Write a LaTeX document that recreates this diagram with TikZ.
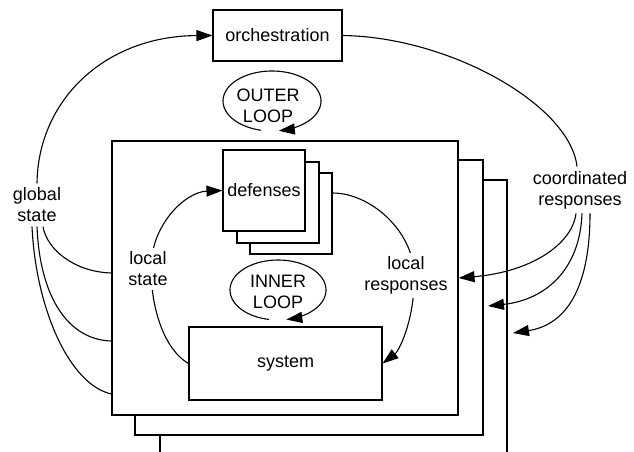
\documentclass[tikz,border=0pt]{standalone}
\usepackage{fontspec}
\setmainfont{Liberation Sans}
\usetikzlibrary{arrows.meta}
\begin{document}
\begin{tikzpicture}[x=1pt,y=-1pt,line width=1.1pt,
  txt/.style={font=\fontsize{18}{21}\selectfont},
  box/.style={draw,fill=white,rectangle,inner sep=0pt},
  lbl/.style={txt,fill=white,inner sep=4pt,align=center},
  arr/.style={-{Triangle[length=16pt,width=11pt]}}]
\useasboundingbox (0,0) rectangle (634,452);
% stacked system boxes
\fill[white] (160,180) rectangle (507,452);
\draw (160,452) -- (160,180) -- (507,180) -- (507,452);
\node[box,minimum width=348pt,minimum height=275pt] (box2) at (309,297.5) {};
\node[box,minimum width=346pt,minimum height=274pt] (box1) at (285,278) {};
% defenses stack
\node[box,minimum width=82pt,minimum height=81pt] (def3) at (291,213.5) {};
\node[box,minimum width=82pt,minimum height=81pt] (def2) at (278,202.5) {};
\node[box,txt,minimum width=82pt,minimum height=81pt] (def1) at (264,190.5) {defenses};
\node[box,txt,minimum width=193pt,minimum height=73pt] (sys) at (285.5,363.5) {system};
\node[box,txt,minimum width=129pt,minimum height=51pt] (orch) at (277.5,35.5) {orchestration};
% loops
\node[txt,align=center] (outer) at (268,105.5) {OUTER\\LOOP};
\draw[arr] plot[domain=103:442,samples=90] ({272+49*cos(\x)},{101+30*sin(\x)});
\node[txt,align=center] (inner) at (278,291.5) {INNER\\LOOP};
\draw[arr] plot[domain=101:440,samples=90] ({278+48*cos(\x)},{290+30*sin(\x)});
% local curves
\coordinate (lsm) at (151,268);
\draw[arr] (sys.west) .. controls (165,350) and (151,310) .. (lsm)
  .. controls (151,225) and (185,192) .. (def1.west);
\coordinate (lrm) at (414,272);
\draw[arr] ([yshift=20.5pt]def3.east) .. controls (370,193) and (412,230) .. (lrm)
  .. controls (416,315) and (400,350) .. (sys.east);
\node[lbl] (ls) at (148,269) {local\\state};
\node[lbl] (lr) at (406,275.5) {local\\responses};
% global / coordinated
\node[lbl] (gs) at (37,205) {global\\state};
\node[lbl] (cr) at (580,190) {coordinated\\responses};
\draw[arr] (gs.north) .. controls (38,100) and (105,36) .. (orch.west);
\draw ([xshift=6pt]gs.south) .. controls (47,250) and (75,272) .. (box1.west |- 0,273);
\draw (gs.south) .. controls (40,300) and (70,340) .. (box1.west |- 0,341);
\draw ([xshift=-5pt]gs.south) .. controls (36,310) and (70,385) .. (box1.west |- 0,394);
\draw (orch.east) .. controls (450,37) and (570,105) .. ([xshift=-3pt]cr.north);
\coordinate (t2) at (488,306);
\coordinate (t3) at (513,333);
\draw[arr] ([xshift=-4pt]cr.south) .. controls (572,245) and (530,272) .. (box1.east);
\draw[arr] ([xshift=2pt]cr.south) .. controls (580,270) and (545,300) .. (t2);
\draw[arr] ([xshift=10pt]cr.south) .. controls (590,290) and (565,325) .. (t3);
\end{tikzpicture}
\end{document}
